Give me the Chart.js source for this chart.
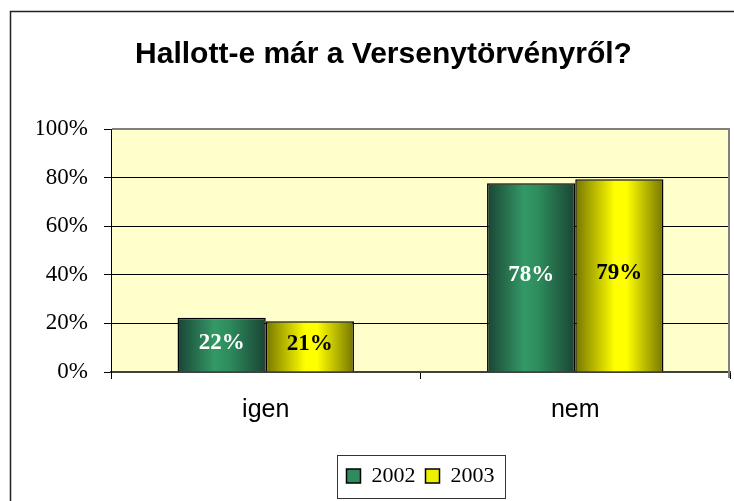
<!DOCTYPE html>
<html>
<head>
<meta charset="utf-8">
<script src="https://cdn.jsdelivr.net/npm/chart.js@4/dist/chart.umd.min.js"></script>
<style>
  html, body { margin: 0; padding: 0; background: #fff; }
  #wrap { width: 734px; height: 501px; }
</style>
</head>
<body>
<div id="wrap"><canvas id="chart" width="734" height="501"></canvas></div>
<script>
// Chart data
const categories = ["igen", "nem"];
const seriesNames = ["2002", "2003"];
const values2002 = [22.3, 77.7];
const values2003 = [20.9, 79.3];
const yTicks = [0, 20, 40, 60, 80, 100];

const CAT_PCT = 0.57;

// gradient stops for the shaded (cylinder-like) bars
const shades = [
  [[0, "#1a4434"], [0.42, "#339966"], [0.58, "#2e8c5d"], [1, "#1a4434"]],
  [[0, "#767600"], [0.45, "#ffff00"], [0.58, "#ffff00"], [1, "#767600"]],
];
const solid = ["#2e8b5e", "#eeee00"];

function barFill(ctx) {
  const chart = ctx.chart;
  const xs = chart.scales && chart.scales.x;
  if (typeof ctx.dataIndex !== "number" || !xs || !chart.chartArea) {
    return solid[ctx.datasetIndex];
  }
  const cat = xs.width / categories.length;
  const barW = (cat * CAT_PCT) / 2;
  const center = xs.getPixelForTick(ctx.dataIndex);
  const left = center - barW + ctx.datasetIndex * barW;
  if (!isFinite(left)) return solid[ctx.datasetIndex];
  const g = chart.ctx.createLinearGradient(left, 0, left + barW, 0);
  shades[ctx.datasetIndex].forEach(([p, c]) => g.addColorStop(p, c));
  return g;
}

// Plot area background, outer frame and plot border
const framePlugin = {
  id: "frame",
  beforeDraw(chart) {
    const { ctx, chartArea: a } = chart;
    ctx.save();
    ctx.fillStyle = "#ffffcc";
    ctx.fillRect(a.left, a.top, a.right - a.left, a.bottom - a.top);
    ctx.strokeStyle = "#222";
    ctx.lineWidth = 1.5;
    ctx.beginPath();
    ctx.moveTo(10.5, 501);
    ctx.lineTo(10.5, 11.5);
    ctx.lineTo(734, 11.5);
    ctx.stroke();
    ctx.restore();
  },
  afterDraw(chart) {
    const { ctx, chartArea: a } = chart;
    ctx.save();
    ctx.strokeStyle = "#808080";
    ctx.lineWidth = 2;
    ctx.beginPath();
    ctx.moveTo(a.left + 1, a.top);
    ctx.lineTo(a.right - 1, a.top);
    ctx.lineTo(a.right - 1, a.bottom + 6);
    ctx.stroke();

    // border round the legend
    const boxes = chart.legend.legendHitBoxes;
    if (boxes && boxes.length) {
      const l = Math.min(...boxes.map((b) => b.left)) - 10;
      const r = Math.max(...boxes.map((b) => b.left + b.width)) + 10;
      ctx.strokeStyle = "#333";
      ctx.lineWidth = 1;
      ctx.strokeRect(Math.round(l) + 0.5, chart.legend.top + 0.5, Math.round(r - l), chart.legend.height + 1);
    }
    ctx.restore();
  },
};

// Value labels in the middle of each bar
const labelPlugin = {
  id: "barLabels",
  afterDatasetsDraw(chart) {
    const { ctx } = chart;
    ctx.save();
    ctx.font = "bold 23px 'Liberation Serif', 'Times New Roman', serif";
    ctx.textAlign = "center";
    ctx.textBaseline = "middle";
    chart.data.datasets.forEach((ds, i) => {
      const meta = chart.getDatasetMeta(i);
      ctx.fillStyle = i === 0 ? "#ffffff" : "#000000";
      meta.data.forEach((bar, j) => {
        const y = (bar.y + bar.base) / 2 - 2;
        ctx.fillText(Math.round(ds.data[j]) + "%", bar.x, y);
      });
    });
    ctx.restore();
  },
};

new Chart(document.getElementById("chart"), {
  type: "bar",
  data: {
    labels: categories,
    datasets: [
      {
        label: seriesNames[0],
        data: values2002,
        backgroundColor: barFill,
        borderColor: "#000",
        borderWidth: 1.5,
      },
      {
        label: seriesNames[1],
        data: values2003,
        backgroundColor: barFill,
        borderColor: "#000",
        borderWidth: 1.5,
      },
    ],
  },
  options: {
    responsive: false,
    animation: false,
    layout: { padding: { left: 37, right: 4, top: 0, bottom: 4 } },
    datasets: {
      bar: { categoryPercentage: CAT_PCT, barPercentage: 1 },
    },
    scales: {
      x: {
        grid: { drawOnChartArea: false, offset: true, color: "#000", tickLength: 7 },
        border: { color: "#404040", width: 2 },
        ticks: {
          color: "#000",
          padding: 16,
          font: { family: "'Liberation Sans', Arial, sans-serif", size: 25 },
        },
        afterFit(scale) {
          scale.height = 83;
        },
      },
      y: {
        min: 0,
        max: 100,
        afterBuildTicks(scale) {
          scale.ticks = yTicks.map((v) => ({ value: v }));
        },
        grid: { color: "#000", lineWidth: 1, tickLength: 7 },
        border: { color: "#000", width: 1 },
        ticks: {
          color: "#000",
          padding: 16,
          font: { family: "'Liberation Serif', 'Times New Roman', serif", size: 23 },
          callback: (v) => v + "%",
        },
        afterFit(scale) {
          scale.width = 74;
        },
      },
    },
    plugins: {
      title: {
        display: true,
        text: "Hallott-e már a Versenytörvényről?",
        color: "#000",
        font: { family: "'Liberation Sans', Arial, sans-serif", size: 30, weight: "bold" },
        padding: { top: 37, bottom: 56 },
      },
      legend: {
        position: "bottom",
        fullSize: false,
        labels: {
          color: "#000",
          boxWidth: 14,
          boxHeight: 14,
          padding: 10,
          font: { family: "'Liberation Serif', 'Times New Roman', serif", size: 22 },
          generateLabels(chart) {
            return Chart.defaults.plugins.legend.labels
              .generateLabels(chart)
              .map((item) => ({ ...item, fillStyle: solid[item.datasetIndex], strokeStyle: "#000", lineWidth: 1.5 }));
          },
        },
      },
      tooltip: { enabled: false },
    },
  },
  plugins: [framePlugin, labelPlugin],
});
</script>
</body>
</html>
